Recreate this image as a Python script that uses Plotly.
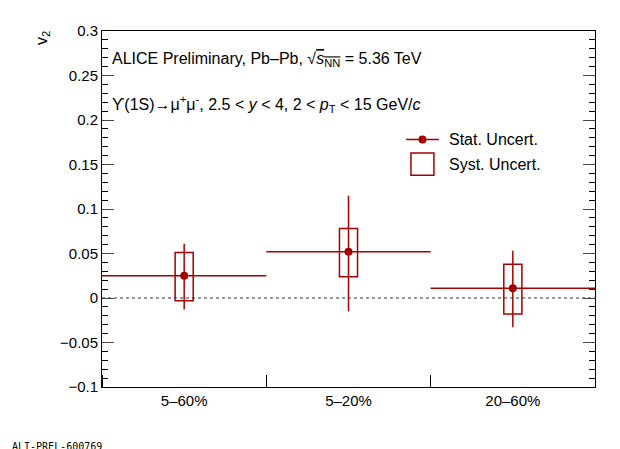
import plotly.graph_objects as go

categories = ["5–60%", "5–20%", "20–60%"]
v2 = [0.025, 0.052, 0.011]
stat_up = [0.036, 0.063, 0.042]
stat_down = [0.038, 0.067, 0.044]
syst_hi = [0.051, 0.078, 0.038]
syst_lo = [-0.003, 0.024, -0.018]
ytickvals = [-0.1, -0.05, 0, 0.05, 0.1, 0.15, 0.2, 0.25, 0.3]
yticktext = ["−0.1", "−0.05", "0", "0.05", "0.1", "0.15", "0.2", "0.25", "0.3"]

red = "#a50000"
x = [i + 0.5 for i in range(len(categories))]
fig = go.Figure()
fig.add_trace(go.Scatter(
    x=x, y=v2, mode="markers", marker=dict(color=red, size=8),
    error_y=dict(type="data", symmetric=False, array=stat_up, arrayminus=stat_down, color=red, thickness=1.5, width=0),
    error_x=dict(type="constant", value=0.5, color=red, thickness=1.5, width=0),
    showlegend=False))
hw = 0.055
for xi, lo, hi in zip(x, syst_lo, syst_hi):
    fig.add_shape(type="rect", x0=xi - hw, x1=xi + hw, y0=lo, y1=hi, line=dict(color=red, width=1.5))
fig.add_shape(type="line", x0=0, x1=3, y0=0, y1=0, line=dict(color="#333", width=1, dash="dot"))

fig.add_annotation(x=0.05, y=0.268, xref="x", yref="y", xanchor="left", showarrow=False,
                   text="ALICE Preliminary, Pb–Pb, √<span style='text-decoration:overline'><i>s</i><sub>NN</sub></span> = 5.36 TeV", font=dict(size=16))
fig.add_annotation(x=0.05, y=0.218, xref="x", yref="y", xanchor="left", showarrow=False,
                   text="ϒ(1S)→μ<sup>+</sup>μ<sup>-</sup>, 2.5 &lt; <i>y</i> &lt; 4, 2 &lt; <i>p</i><sub>T</sub> &lt; 15 GeV/<i>c</i>", font=dict(size=16))
# legend
fig.add_trace(go.Scatter(x=[1.85, 2.05], y=[0.178, 0.178], mode="lines", line=dict(color=red, width=1.5), showlegend=False, hoverinfo="skip"))
fig.add_trace(go.Scatter(x=[1.95], y=[0.178], mode="markers", marker=dict(color=red, size=8), showlegend=False, hoverinfo="skip"))
fig.add_shape(type="rect", x0=1.88, x1=2.02, y0=0.138, y1=0.163, line=dict(color=red, width=1.5))
fig.add_annotation(x=2.1, y=0.178, xanchor="left", showarrow=False, text="Stat. Uncert.", font=dict(size=16))
fig.add_annotation(x=2.1, y=0.150, xanchor="left", showarrow=False, text="Syst. Uncert.", font=dict(size=16))

fig.add_annotation(x=0, y=0, xref="paper", yref="paper", xanchor="left", yanchor="top", xshift=-92, yshift=-52,
                   showarrow=False, text="ALI-PREL-600769", font=dict(family="DejaVu Sans Mono", size=10))
fig.add_annotation(x=0, y=1, xref="paper", yref="paper", xanchor="center", yanchor="top", xshift=-60, yshift=2,
                   showarrow=False, textangle=-90, text="v<sub>2</sub>", font=dict(size=16))

fig.update_layout(
    width=620, height=449, plot_bgcolor="white", paper_bgcolor="white",
    margin=dict(l=94, r=33, t=23, b=70),
    font=dict(family="Liberation Sans, Arial", size=15, color="black"),
    xaxis=dict(range=[0, 3], tickvals=x, ticktext=categories, ticks="", showgrid=False, zeroline=False,
               showline=True, linecolor="black", mirror=True,
               minor=dict(dtick=1, tick0=0, ticks="inside", ticklen=12, tickcolor="black")),
    yaxis=dict(range=[-0.1, 0.3], tickvals=ytickvals, ticktext=yticktext, ticks="inside", ticklen=12, showgrid=False, zeroline=False,
               showline=True, linecolor="black", mirror="ticks",
               minor=dict(dtick=0.01, tick0=0, ticks="inside", ticklen=6, tickcolor="black")),
)
fig.write_html("out.html")
